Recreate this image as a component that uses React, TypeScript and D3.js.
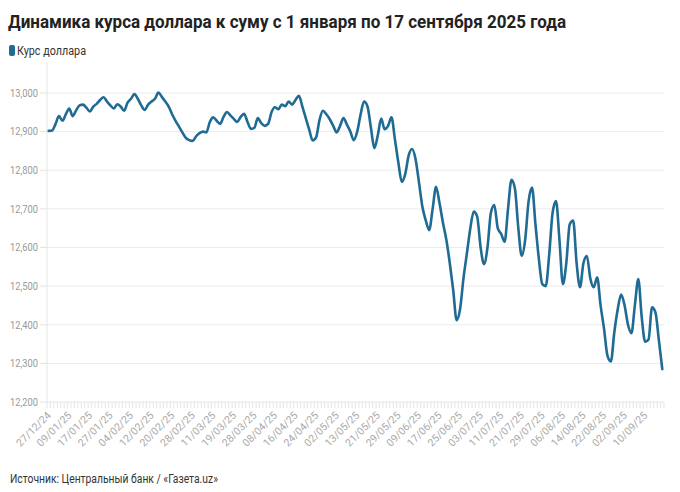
import React from "react";
import * as d3 from "d3";

const title = "Динамика курса доллара к суму с 1 января по 17 сентября 2025 года";
const seriesName = "Курс доллара";
const source = "Источник: Центральный банк / «Газета.uz»";

const tickLabels = [
  "27/12/24", "09/01/25", "17/01/25", "27/01/25", "04/02/25", "12/02/25",
  "20/02/25", "28/02/25", "11/03/25", "19/03/25", "28/03/25", "08/04/25",
  "16/04/25", "24/04/25", "02/05/25", "13/05/25", "21/05/25", "29/05/25",
  "09/06/25", "17/06/25", "25/06/25", "03/07/25", "11/07/25", "21/07/25",
  "29/07/25", "06/08/25", "14/08/25", "22/08/25", "02/09/25", "10/09/25",
];
const labelEvery = 6;

const yTicks = [12200, 12300, 12400, 12500, 12600, 12700, 12800, 12900, 13000];

const rates = [
  12902, 12903, 12920, 12940, 12928, 12945, 12960, 12940, 12955, 12968,
  12970, 12962, 12952, 12965, 12972, 12982, 12989, 12978, 12968, 12960,
  12971, 12965, 12954, 12975, 12985, 12997, 12985, 12968, 12956, 12970,
  12978, 12985, 13001, 12990, 12978, 12965, 12945, 12928, 12913, 12898,
  12884, 12878, 12876, 12888, 12896, 12900, 12898, 12925, 12937, 12928,
  12920, 12938, 12951, 12942, 12933, 12925, 12938, 12946, 12925, 12907,
  12910, 12935, 12922, 12915, 12920, 12950, 12963, 12958, 12970, 12966,
  12978, 12970, 12982, 12993, 12965, 12935, 12905, 12877, 12885, 12930,
  12954, 12945, 12932, 12915, 12898, 12915, 12935, 12918, 12900, 12878,
  12900, 12945, 12978, 12965, 12910, 12857, 12890, 12934, 12906, 12915,
  12937, 12880, 12820, 12770, 12790, 12838, 12855, 12830, 12770, 12706,
  12670, 12645, 12700, 12757, 12715, 12665, 12620, 12560, 12490, 12412,
  12440, 12520, 12585, 12650, 12693, 12680, 12600, 12557, 12600, 12690,
  12710, 12650, 12635, 12615, 12700, 12775, 12753, 12650, 12578, 12620,
  12720, 12755, 12660, 12570, 12505, 12500, 12580, 12690, 12720, 12620,
  12505, 12560, 12660, 12670, 12560, 12497, 12560, 12578, 12520, 12497,
  12523, 12450, 12390, 12320, 12305, 12380, 12440, 12478, 12450, 12400,
  12378, 12450, 12518, 12420, 12356, 12362, 12445, 12432, 12360, 12285,
];

const W = 680;
const H = 492;
const left = 47;
const right = 664;
const top = 93;
const bottom = 402;
const font = "Roboto, 'Noto Sans', sans-serif";

export default function App() {
  const idx = rates.map((_, i) => i);
  const x = d3.scaleBand<number>().domain(idx).range([left, right]);
  const bw = x.bandwidth();
  const cx = (i: number) => (x(i) as number) + bw / 2;
  const y = d3.scaleLinear().domain([12200, 13000]).range([bottom, top]);
  const line = d3
    .line<number>()
    .x((_, i) => cx(i))
    .y((d) => y(d))
    .curve(d3.curveMonotoneX);

  return (
    <div style={{ position: "fixed", left: 0, top: 0 }}>
      <svg width={W} height={H} style={{ display: "block", background: "#fff" }} fontFamily={font}>
        <text x={8} y={28} fontSize={18} fontWeight={700} fill="#222" textLength={558} lengthAdjust="spacingAndGlyphs">
          {title}
        </text>
        <rect x={9} y={45} width={6} height={11} rx={2} fill="#1f6b93" />
        <text x={17} y={55} fontSize={12} fill="#333" textLength={69} lengthAdjust="spacingAndGlyphs">
          {seriesName}
        </text>

        {yTicks.map((t) => (
          <g key={t}>
            {t !== 12200 && (
              <line x1={left} x2={right} y1={y(t)} y2={y(t)} stroke="#ebebeb" strokeWidth={1} />
            )}
            <line x1={40} x2={left} y1={y(t)} y2={y(t)} stroke="#e3e3e3" strokeWidth={1} />
            <text x={38} y={y(t)} dy="0.35em" textAnchor="end" fontSize={11} fill="#999" textLength={28} lengthAdjust="spacingAndGlyphs">
              {d3.format(",")(t)}
            </text>
          </g>
        ))}

        <line x1={left} x2={left} y1={62} y2={bottom} stroke="#e6e6e6" strokeWidth={1} />
        <line x1={left} x2={right} y1={bottom} y2={bottom} stroke="#e6e6e6" strokeWidth={1} />
        {idx.map((i) => (
          <line key={i} x1={x(i) as number} x2={x(i) as number} y1={bottom} y2={bottom + 6} stroke="#e6e6e6" strokeWidth={1} />
        ))}
        <line x1={right} x2={right} y1={bottom} y2={bottom + 6} stroke="#e6e6e6" strokeWidth={1} />

        {tickLabels.map((lab, k) => {
          const px = cx(k * labelEvery) + 3;
          const py = bottom + 14;
          return (
            <text key={lab} x={px} y={py} textAnchor="end" fontSize={10.5} fill="#aaa" transform={`rotate(-45 ${px} ${py})`}>
              {lab}
            </text>
          );
        })}

        <path d={line(rates) as string} fill="none" stroke="#1f6b93" strokeWidth={2.6} strokeLinejoin="round" strokeLinecap="round" />

        <text x={10} y={483} fontSize={12} fill="#333" textLength={208} lengthAdjust="spacingAndGlyphs">
          {source}
        </text>
      </svg>
    </div>
  );
}
